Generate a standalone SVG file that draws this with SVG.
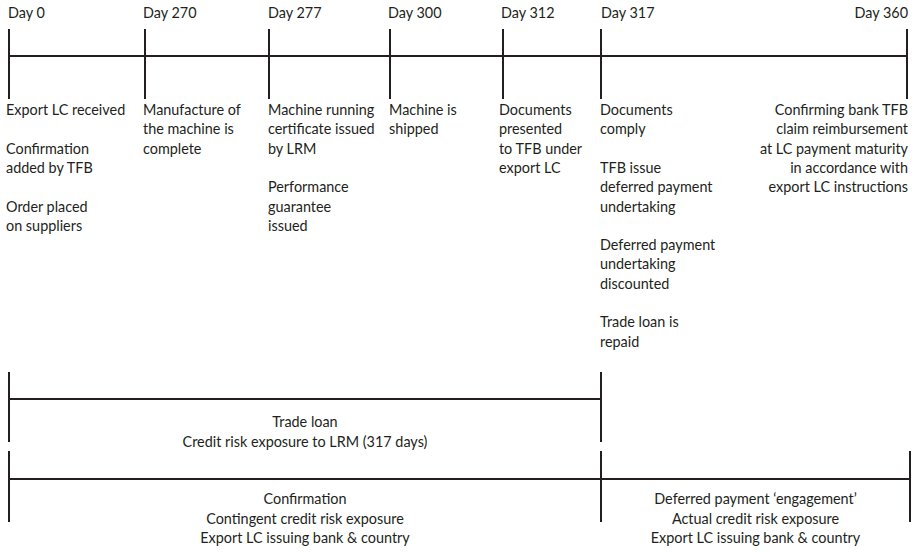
<svg xmlns="http://www.w3.org/2000/svg" width="917" height="552" viewBox="0 0 917 552">
<style>
  .ln { stroke: #231f20; stroke-width: 2; fill: none; }
  text { font-family: Lato, "Liberation Sans", sans-serif; font-size: 14.4px; fill: #231f20; }
  .c { text-anchor: middle; }
  .r { text-anchor: end; }
</style>
<rect width="917" height="552" fill="#ffffff"/>
<g id="connectors">
  <line class="ln" x1="9" y1="56" x2="907" y2="56"/>
  <line class="ln" x1="9" y1="29" x2="9" y2="99"/>
  <line class="ln" x1="145" y1="29" x2="145" y2="99"/>
  <line class="ln" x1="269" y1="29" x2="269" y2="99"/>
  <line class="ln" x1="390" y1="29" x2="390" y2="99"/>
  <line class="ln" x1="503" y1="29" x2="503" y2="99"/>
  <line class="ln" x1="601" y1="29" x2="601" y2="99"/>
  <line class="ln" x1="907" y1="29" x2="907" y2="99"/>
  <line class="ln" x1="9" y1="399" x2="601" y2="399"/>
  <line class="ln" x1="9" y1="372" x2="9" y2="442"/>
  <line class="ln" x1="601" y1="372" x2="601" y2="442"/>
  <line class="ln" x1="9" y1="479" x2="910" y2="479"/>
  <line class="ln" x1="9" y1="451" x2="9" y2="522"/>
  <line class="ln" x1="601" y1="451" x2="601" y2="522"/>
  <line class="ln" x1="910" y1="451" x2="910" y2="522"/>
</g>
<g id="day0">
  <text x="8" y="18">Day 0</text>
  <text x="6" y="115">Export LC received</text>
  <text x="6" y="153.6">Confirmation</text>
  <text x="6" y="172.9">added by TFB</text>
  <text x="6" y="211.5">Order placed</text>
  <text x="6" y="230.8">on suppliers</text>
</g>
<g id="day270">
  <text x="143" y="18">Day 270</text>
  <text x="143" y="115">Manufacture of</text>
  <text x="143" y="134.3">the machine is</text>
  <text x="143" y="153.6">complete</text>
</g>
<g id="day277">
  <text x="268" y="18">Day 277</text>
  <text x="268" y="115">Machine running</text>
  <text x="268" y="134.3">certificate issued</text>
  <text x="268" y="153.6">by LRM</text>
  <text x="268" y="192.2">Performance</text>
  <text x="268" y="211.5">guarantee</text>
  <text x="268" y="230.8">issued</text>
</g>
<g id="day300">
  <text x="388" y="18">Day 300</text>
  <text x="389" y="115">Machine is</text>
  <text x="389" y="134.3">shipped</text>
</g>
<g id="day312">
  <text x="501" y="18">Day 312</text>
  <text x="499" y="115">Documents</text>
  <text x="499" y="134.3">presented</text>
  <text x="499" y="153.6">to TFB under</text>
  <text x="499" y="172.9">export LC</text>
</g>
<g id="day317">
  <text x="601" y="18">Day 317</text>
  <text x="600" y="115">Documents</text>
  <text x="600" y="134.3">comply</text>
  <text x="600" y="172.9">TFB issue</text>
  <text x="600" y="192.2">deferred payment</text>
  <text x="600" y="211.5">undertaking</text>
  <text x="600" y="250.1">Deferred payment</text>
  <text x="600" y="269.4">undertaking</text>
  <text x="600" y="288.7">discounted</text>
  <text x="600" y="327.3">Trade loan is</text>
  <text x="600" y="346.6">repaid</text>
</g>
<g id="day360">
  <text class="r" x="908" y="18">Day 360</text>
  <text class="r" x="908" y="115">Confirming bank TFB</text>
  <text class="r" x="908" y="134.3">claim reimbursement</text>
  <text class="r" x="908" y="153.6">at LC payment maturity</text>
  <text class="r" x="908" y="172.9">in accordance with</text>
  <text class="r" x="908" y="192.2">export LC instructions</text>
</g>
<g id="trade-loan">
  <text class="c" x="305" y="427">Trade loan</text>
  <text class="c" x="305" y="446.5">Credit risk exposure to LRM (317 days)</text>
</g>
<g id="confirmation">
  <text class="c" x="305" y="504">Confirmation</text>
  <text class="c" x="305" y="523.5">Contingent credit risk exposure</text>
  <text class="c" x="305" y="543">Export LC issuing bank &amp; country</text>
</g>
<g id="deferred-payment">
  <text class="c" x="755.5" y="504">Deferred payment ‘engagement’</text>
  <text class="c" x="755.5" y="523.5">Actual credit risk exposure</text>
  <text class="c" x="755.5" y="543">Export LC issuing bank &amp; country</text>
</g>
</svg>
